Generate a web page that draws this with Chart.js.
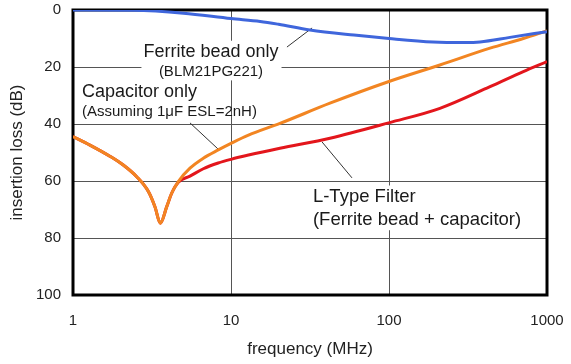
<!DOCTYPE html>
<html>
<head>
<meta charset="utf-8">
<script src="https://cdn.jsdelivr.net/npm/chart.js@4/dist/chart.umd.min.js"></script>
<style>
html,body{margin:0;padding:0;background:#fff;}
#wrap{width:571px;height:364px;position:relative;}
</style>
</head>
<body>
<div id="wrap"><canvas id="c"></canvas></div>
<script>
// ---- data ----
const freqs = [1, 1.28, 1.71, 2.08, 2.53, 3.0, 3.30, 3.57, 3.92, 4.21, 4.64, 5.5, 6.68, 8.3, 10, 12.9, 20.4, 42.3, 101, 210, 436, 708, 1000];
const capacitorOnly = [44.4, 47.4, 51.3, 54.4, 58.5, 63.7, 69, 74.8, 69, 64.3, 60.2, 55.5, 52, 49.1, 46.8, 43.9, 39.8, 32.7, 25, 19.3, 13.4, 10.0, 7.3];
const lTypeFilter = [44.4, 47.4, 51.3, 54.4, 58.5, 63.7, 69, 74.8, 69, 64.3, 60.4, 58.3, 55.7, 53.7, 52.4, 50.9, 48.5, 45, 39.5, 34.5, 26.9, 21.6, 18.1];
const beadFreqs = [1, 2.4, 5, 10, 15.3, 20, 31.6, 60, 100, 190, 300, 377, 583, 1000];
const ferriteOnly = [0, 0.1, 1.1, 3.0, 4.0, 5.0, 7, 8.8, 10, 11.2, 11.4, 11.2, 9.6, 7.6];
const xTicks = [1, 10, 100, 1000];
const yTicks = [0, 20, 40, 60, 80, 100];
const xTitle = 'frequency (MHz)';
const yTitle = 'insertion loss (dB)';

const toPts = (xs, ys) => xs.map((x, i) => ({x: x, y: ys[i]}));

// annotations anchored in data coordinates (frequency, dB)
const notes = [
  {lines: ['Ferrite bead only', '(BLM21PG221)'], sizes: [18, 15], at: [7.47, 14.7], gap: 7.1, align: 'center', box: true,
   leader: [[22.6, 13], [32.6, 6.3]]},
  {lines: ['Capacitor only', '(Assuming 1μF ESL=2nH)'], sizes: [18, 15], at: [1.14, 28.8], gap: 7.0, align: 'left', box: false,
   leader: [[5.5, 39.6], [8.4, 49.1]]},
  {lines: ['L-Type Filter', '(Ferrite bead + capacitor)'], sizes: [18.5, 18.5], at: [33, 65.6], gap: 8.1, align: 'left', box: true,
   leader: [[58.3, 58.9], [37.7, 46.3]]}
];

const FONT = '"Liberation Sans", Arial, sans-serif';

const annotPlugin = {
  id: 'annot',
  beforeDatasetsDraw(chart) {
    const ctx = chart.ctx, xs = chart.scales.x, ys = chart.scales.y;
    ctx.save();
    notes.forEach(n => {
      const px = xs.getPixelForValue(n.at[0]);
      const py0 = ys.getPixelForValue(n.at[1]);
      const py1 = ys.getPixelForValue(n.at[1] + n.gap);
      const pys = [py0, py1];
      let widths = n.lines.map((t, i) => { ctx.font = n.sizes[i] + 'px ' + FONT; return ctx.measureText(t).width; });
      const maxW = Math.max.apply(null, widths);
      if (n.box) {
        const left = n.align === 'center' ? px - maxW / 2 - 2 : px - 3;
        const top = py0 - n.sizes[0] * 0.62;
        const bottom = py1 + n.sizes[1] * 0.55;
        ctx.fillStyle = '#fff';
        ctx.fillRect(left, top, maxW + 5, bottom - top);
      }
      ctx.fillStyle = '#1a1a1a';
      ctx.textBaseline = 'middle';
      ctx.textAlign = n.align;
      n.lines.forEach((t, i) => {
        ctx.font = n.sizes[i] + 'px ' + FONT;
        ctx.fillText(t, px, pys[i]);
      });
      ctx.strokeStyle = '#333';
      ctx.lineWidth = 1;
      ctx.beginPath();
      ctx.moveTo(xs.getPixelForValue(n.leader[0][0]), ys.getPixelForValue(n.leader[0][1]));
      ctx.lineTo(xs.getPixelForValue(n.leader[1][0]), ys.getPixelForValue(n.leader[1][1]));
      ctx.stroke();
    });
    const a = chart.chartArea;
    ctx.strokeStyle = '#000';
    ctx.lineWidth = 3;
    ctx.strokeRect(a.left, a.top, a.right - a.left, a.bottom - a.top);
    ctx.restore();
  }
};

const zeroPad = s => { s.paddingTop = 0; s.paddingBottom = 0; s.paddingLeft = 0; s.paddingRight = 0; };

new Chart(document.getElementById('c'), {
  type: 'line',
  data: {
    datasets: [
      {label: 'Ferrite bead only', data: toPts(beadFreqs, ferriteOnly), borderColor: '#3f66dc', borderWidth: 3},
      {label: 'Capacitor only', data: toPts(freqs, capacitorOnly), borderColor: '#f28522', borderWidth: 3},
      {label: 'L-Type Filter', data: toPts(freqs, lTypeFilter), borderColor: '#e3161c', borderWidth: 3}
    ]
  },
  options: {
    responsive: true,
    maintainAspectRatio: false,
    animation: false,
    events: [],
    elements: {point: {radius: 0}, line: {cubicInterpolationMode: 'monotone', fill: false}},
    layout: {padding: {top: 10, right: 24, left: 0, bottom: 0}},
    plugins: {legend: {display: false}, tooltip: {enabled: false}},
    scales: {
      x: {
        type: 'logarithmic', min: 1, max: 1000,
        afterBuildTicks: s => { s.ticks = xTicks.map(v => ({value: v})); },
        afterFit: s => { s.height = 69; zeroPad(s); },
        ticks: {callback: v => String(v), color: '#222', font: {family: FONT, size: 15}, padding: 17, maxRotation: 0, autoSkip: false},
        grid: {color: '#555', lineWidth: 1, drawTicks: false},
        border: {display: false},
        title: {display: true, text: xTitle, color: '#222', font: {family: FONT, size: 17}, padding: {top: 4, bottom: 4}}
      },
      y: {
        type: 'linear', min: 0, max: 100, reverse: true,
        afterBuildTicks: s => { s.ticks = yTicks.map(v => ({value: v})); },
        afterFit: s => { s.width = 73; zeroPad(s); },
        ticks: {color: '#222', font: {family: FONT, size: 15}, padding: 12},
        grid: {color: '#555', lineWidth: 1, drawTicks: false},
        border: {display: false},
        title: {display: true, text: yTitle, color: '#222', font: {family: FONT, size: 17}, padding: {top: 7, bottom: 0}}
      }
    }
  },
  plugins: [annotPlugin]
});
</script>
</body>
</html>
